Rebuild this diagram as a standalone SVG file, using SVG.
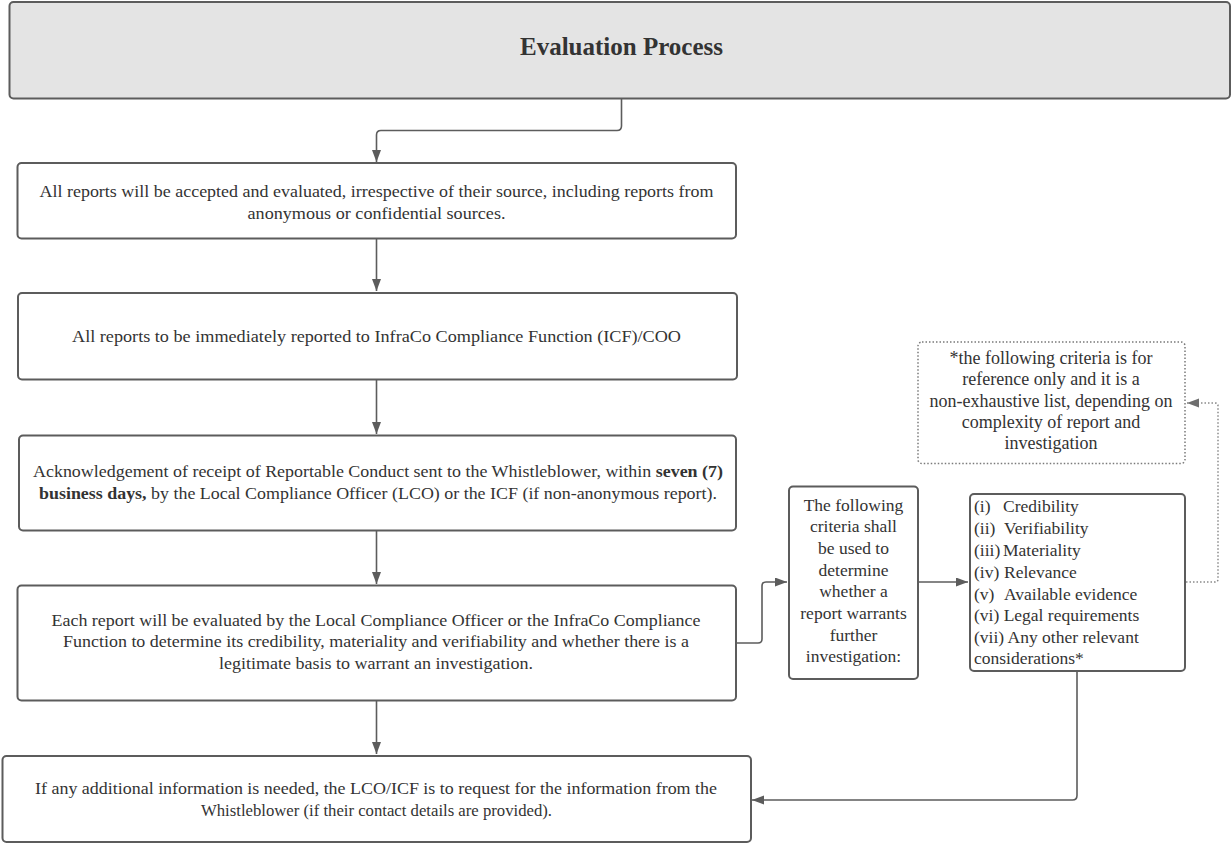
<svg xmlns="http://www.w3.org/2000/svg" width="1232" height="843" viewBox="0 0 1232 843">
<style>
.box{fill:#ffffff;stroke:#5c5c5c;stroke-width:2}
.title{fill:#e4e4e4;stroke:#5c5c5c;stroke-width:2}
.dot{fill:#ffffff;stroke:#7a7a7a;stroke-width:1.5;stroke-dasharray:1.5 2}
.t{font-size:17.5px;fill:#333333}
.c{text-anchor:middle}
.b{font-weight:bold}
.tt{font-size:25px;font-weight:bold;fill:#333333;text-anchor:middle}
.ln{fill:none;stroke:#5c5c5c;stroke-width:1.6}
.dl{fill:none;stroke:#8a8a8a;stroke-width:1.5;stroke-dasharray:1.5 2}
</style>
<defs>
<marker id="ah" markerUnits="userSpaceOnUse" markerWidth="13" markerHeight="10" refX="12" refY="4.5" orient="auto">
<path d="M0,0 L12,4.5 L0,9 z" fill="#5c5c5c"/>
</marker>
<marker id="ahd" markerUnits="userSpaceOnUse" markerWidth="13" markerHeight="10" refX="12" refY="4.5" orient="auto">
<path d="M0,0 L12,4.5 L0,9 z" fill="#6e6e6e"/>
</marker>
</defs>

<g id="connectors">
<path class="ln" d="M621.5,99 V126 Q621.5,130.5 617,130.5 H381 Q376.5,130.5 376.5,135 V162" marker-end="url(#ah)"/>
<path class="ln" d="M376.5,239 V291" marker-end="url(#ah)"/>
<path class="ln" d="M376.5,380 V434" marker-end="url(#ah)"/>
<path class="ln" d="M376.5,531 V584" marker-end="url(#ah)"/>
<path class="ln" d="M376.5,701 V754" marker-end="url(#ah)"/>
<path class="ln" d="M736,643 H758 Q762,643 762,639 V586 Q762,582 766,582 H787" marker-end="url(#ah)"/>
<path class="ln" d="M918,582 H968" marker-end="url(#ah)"/>
<path class="ln" d="M1077,671 V795.5 Q1077,800 1072.5,800 H752" marker-end="url(#ah)"/>
<path class="dl" d="M1186,582 H1215 Q1218,582 1218,579 V406 Q1218,403 1215,403 H1187" marker-end="url(#ahd)"/>
</g>

<g font-family="Liberation Serif, DejaVu Serif, serif">
<g id="title">
<rect class="title" x="9.5" y="2" width="1220.5" height="96.5" rx="4"/>
<text class="tt" x="621.5" y="55">Evaluation Process</text>
</g>

<g id="n1">
<rect class="box" x="17.5" y="163" width="718.5" height="75.5" rx="4"/>
<text class="t c" x="376.5" y="197" textLength="674" lengthAdjust="spacingAndGlyphs">All reports will be accepted and evaluated, irrespective of their source, including reports from</text>
<text class="t c" x="376.5" y="218.5" textLength="258" lengthAdjust="spacingAndGlyphs">anonymous or confidential sources.</text>
</g>

<g id="n2">
<rect class="box" x="18" y="293" width="719" height="86.5" rx="4"/>
<text class="t c" x="376.5" y="341.5" textLength="609" lengthAdjust="spacingAndGlyphs">All reports to be immediately reported to InfraCo Compliance Function (ICF)/COO</text>
</g>

<g id="n3">
<rect class="box" x="19" y="435.5" width="717" height="95" rx="4"/>
<text class="t c" x="378" y="477" textLength="690" lengthAdjust="spacingAndGlyphs">Acknowledgement of receipt of Reportable Conduct sent to the Whistleblower, within <tspan class="b">seven (7)</tspan></text>
<text class="t c" x="378" y="498.5" textLength="678" lengthAdjust="spacingAndGlyphs"><tspan class="b">business days,</tspan> by the Local Compliance Officer (LCO) or the ICF (if non-anonymous report).</text>
</g>

<g id="n4">
<rect class="box" x="17.5" y="585.5" width="718.5" height="115" rx="4"/>
<text class="t c" x="376" y="625.5" textLength="649" lengthAdjust="spacingAndGlyphs">Each report will be evaluated by the Local Compliance Officer or the InfraCo Compliance</text>
<text class="t c" x="376" y="647" textLength="626" lengthAdjust="spacingAndGlyphs">Function to determine its credibility, materiality and verifiability and whether there is a</text>
<text class="t c" x="376" y="668.5" textLength="314" lengthAdjust="spacingAndGlyphs">legitimate basis to warrant an investigation.</text>
</g>

<g id="n5">
<rect class="box" x="2.5" y="756" width="748.5" height="86" rx="4"/>
<text class="t c" x="376" y="793.5" textLength="682" lengthAdjust="spacingAndGlyphs">If any additional information is needed, the LCO/ICF is to request for the information from the</text>
<text class="t c" x="376.5" y="815.5" textLength="351" lengthAdjust="spacingAndGlyphs">Whistleblower (if their contact details are provided).</text>
</g>

<g id="n6">
<rect class="box" x="789" y="486.5" width="129" height="192.5" rx="4"/>
<text class="t c" x="853.5" y="510.5">The following</text>
<text class="t c" x="853.5" y="532.2">criteria shall</text>
<text class="t c" x="853.5" y="553.8">be used to</text>
<text class="t c" x="853.5" y="575.5">determine</text>
<text class="t c" x="853.5" y="597.2">whether a</text>
<text class="t c" x="853.5" y="618.8">report warrants</text>
<text class="t c" x="853.5" y="640.5">further</text>
<text class="t c" x="853.5" y="662.2">investigation:</text>
</g>

<g id="n7">
<rect class="box" x="970" y="494" width="215" height="177" rx="4"/>
<text class="t" x="974" y="512">(i)</text><text class="t" x="1003" y="512">Credibility</text>
<text class="t" x="974" y="534">(ii)</text><text class="t" x="1004" y="534">Verifiability</text>
<text class="t" x="974" y="556">(iii)</text><text class="t" x="1003" y="556">Materiality</text>
<text class="t" x="974" y="578">(iv)</text><text class="t" x="1004" y="578">Relevance</text>
<text class="t" x="974" y="599.5">(v)</text><text class="t" x="1004" y="599.5">Available evidence</text>
<text class="t" x="974" y="621">(vi) Legal requirements</text>
<text class="t" x="974" y="642.5">(vii) Any other relevant</text>
<text class="t" x="974" y="664">considerations*</text>
</g>

<g id="n8">
<rect class="dot" x="918" y="342" width="267" height="121.5" rx="4"/>
<text class="t c" x="1051" y="364" style="font-size:18px">*the following criteria is for</text>
<text class="t c" x="1051" y="385" style="font-size:18px">reference only and it is a</text>
<text class="t c" x="1051" y="406.5" style="font-size:18px">non-exhaustive list, depending on</text>
<text class="t c" x="1051" y="428" style="font-size:18px">complexity of report and</text>
<text class="t c" x="1051" y="449" style="font-size:18px">investigation</text>
</g>
</g>
</svg>
